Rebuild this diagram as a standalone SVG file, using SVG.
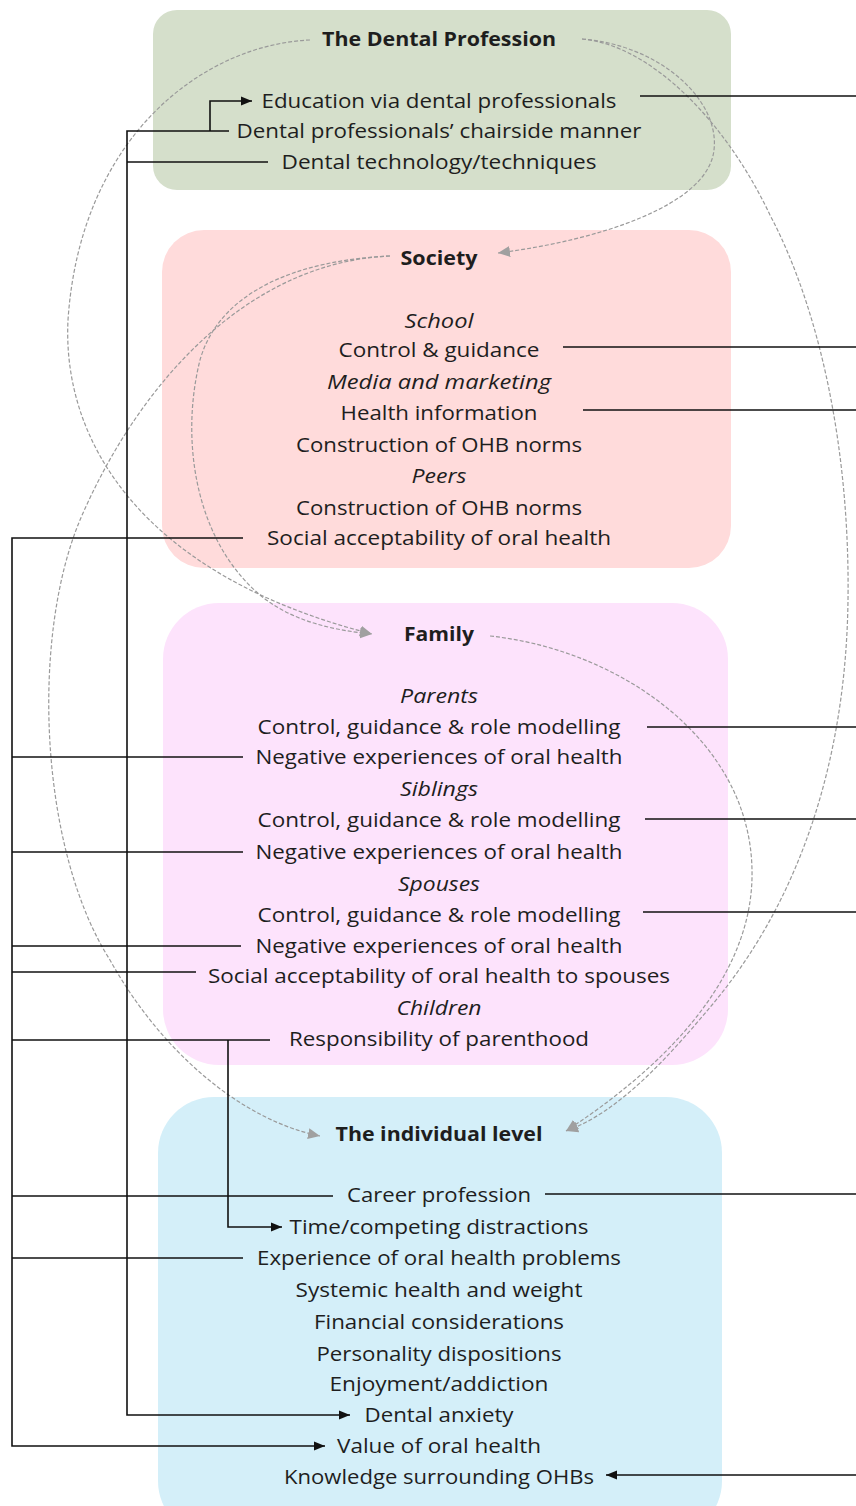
<svg xmlns="http://www.w3.org/2000/svg" width="856" height="1506" viewBox="0 0 856 1506">
  <style>
    text { font-family: "Open Sans", "Noto Sans", sans-serif; font-size: 20px; fill: #1e1e1e; text-anchor: middle; }
    .h { font-weight: bold; }
    .i { font-style: italic; }
    .box { stroke: none; }
    .wire { fill: none; stroke: #111; stroke-width: 1.6; }
    .flow { fill: none; stroke: #9a9a9a; stroke-width: 1.2; stroke-dasharray: 4 2; }
  </style>
  <defs>
    <marker id="arrow" markerUnits="userSpaceOnUse" markerWidth="12" markerHeight="11" refX="11" refY="5.5" orient="auto">
      <path d="M0,1 L11,5.5 L0,10 z" fill="#111"/>
    </marker>
    <marker id="arrowGrey" markerUnits="userSpaceOnUse" markerWidth="13" markerHeight="12" refX="12" refY="6" orient="auto">
      <path d="M0,0.5 L12,6 L0,11.5 z" fill="#a0a0a0"/>
    </marker>
  </defs>

  <!-- Level panels -->
  <g id="dental-profession">
    <rect class="box" x="153" y="10" width="578" height="180" rx="24" fill="#d5dfcb"/>
    <text class="h" x="439" y="46" textLength="234" lengthAdjust="spacingAndGlyphs">The Dental Profession</text>
    <text x="439" y="108" textLength="355" lengthAdjust="spacingAndGlyphs">Education via dental professionals</text>
    <text x="439" y="138" textLength="405" lengthAdjust="spacingAndGlyphs">Dental professionals’ chairside manner</text>
    <text x="439" y="169" textLength="315" lengthAdjust="spacingAndGlyphs">Dental technology/techniques</text>
  </g>

  <g id="society">
    <rect class="box" x="162" y="230" width="569" height="338" rx="42" fill="#ffdbdb"/>
    <text class="h" x="439" y="265" textLength="77" lengthAdjust="spacingAndGlyphs">Society</text>
    <text class="i" x="439" y="328" textLength="69" lengthAdjust="spacingAndGlyphs">School</text>
    <text x="439" y="357" textLength="201" lengthAdjust="spacingAndGlyphs">Control &amp; guidance</text>
    <text class="i" x="439" y="389" textLength="224" lengthAdjust="spacingAndGlyphs">Media and marketing</text>
    <text x="439" y="420" textLength="197" lengthAdjust="spacingAndGlyphs">Health information</text>
    <text x="439" y="452" textLength="286" lengthAdjust="spacingAndGlyphs">Construction of OHB norms</text>
    <text class="i" x="439" y="483" textLength="55" lengthAdjust="spacingAndGlyphs">Peers</text>
    <text x="439" y="515" textLength="286" lengthAdjust="spacingAndGlyphs">Construction of OHB norms</text>
    <text x="439" y="545" textLength="344" lengthAdjust="spacingAndGlyphs">Social acceptability of oral health</text>
  </g>

  <g id="family">
    <rect class="box" x="163" y="603" width="565" height="462" rx="56" fill="#fde3fc"/>
    <text class="h" x="439" y="641" textLength="70" lengthAdjust="spacingAndGlyphs">Family</text>
    <text class="i" x="439" y="703" textLength="78" lengthAdjust="spacingAndGlyphs">Parents</text>
    <text x="439" y="734" textLength="363" lengthAdjust="spacingAndGlyphs">Control, guidance &amp; role modelling</text>
    <text x="439" y="764" textLength="367" lengthAdjust="spacingAndGlyphs">Negative experiences of oral health</text>
    <text class="i" x="439" y="796" textLength="78" lengthAdjust="spacingAndGlyphs">Siblings</text>
    <text x="439" y="827" textLength="363" lengthAdjust="spacingAndGlyphs">Control, guidance &amp; role modelling</text>
    <text x="439" y="859" textLength="367" lengthAdjust="spacingAndGlyphs">Negative experiences of oral health</text>
    <text class="i" x="439" y="891" textLength="82" lengthAdjust="spacingAndGlyphs">Spouses</text>
    <text x="439" y="922" textLength="363" lengthAdjust="spacingAndGlyphs">Control, guidance &amp; role modelling</text>
    <text x="439" y="953" textLength="367" lengthAdjust="spacingAndGlyphs">Negative experiences of oral health</text>
    <text x="439" y="983" textLength="462" lengthAdjust="spacingAndGlyphs">Social acceptability of oral health to spouses</text>
    <text class="i" x="439" y="1015" textLength="85" lengthAdjust="spacingAndGlyphs">Children</text>
    <text x="439" y="1046" textLength="300" lengthAdjust="spacingAndGlyphs">Responsibility of parenthood</text>
  </g>

  <g id="individual">
    <rect class="box" x="158" y="1097" width="564" height="440" rx="56" fill="#d4eff9"/>
    <text class="h" x="439" y="1141" textLength="207" lengthAdjust="spacingAndGlyphs">The individual level</text>
    <text x="439" y="1202" textLength="184" lengthAdjust="spacingAndGlyphs">Career profession</text>
    <text x="439" y="1234" textLength="299" lengthAdjust="spacingAndGlyphs">Time/competing distractions</text>
    <text x="439" y="1265" textLength="364" lengthAdjust="spacingAndGlyphs">Experience of oral health problems</text>
    <text x="439" y="1297" textLength="287" lengthAdjust="spacingAndGlyphs">Systemic health and weight</text>
    <text x="439" y="1329" textLength="250" lengthAdjust="spacingAndGlyphs">Financial considerations</text>
    <text x="439" y="1361" textLength="245" lengthAdjust="spacingAndGlyphs">Personality dispositions</text>
    <text x="439" y="1391" textLength="219" lengthAdjust="spacingAndGlyphs">Enjoyment/addiction</text>
    <text x="439" y="1422" textLength="149" lengthAdjust="spacingAndGlyphs">Dental anxiety</text>
    <text x="439" y="1453" textLength="204" lengthAdjust="spacingAndGlyphs">Value of oral health</text>
    <text x="439" y="1484" textLength="310" lengthAdjust="spacingAndGlyphs">Knowledge surrounding OHBs</text>
  </g>

  <!-- Influence curves between levels -->
  <g id="level-flows">
    <path class="flow" d="M582 39 C660 45 720 100 714 150 C708 205 600 240 498 253" marker-end="url(#arrowGrey)"/>
    <path class="flow" d="M582 39 C650 45 725 120 770 215 C820 310 850 450 848 600 C846 760 800 900 712 1005 C670 1055 620 1112 566 1131" marker-end="url(#arrowGrey)"/>
    <path class="flow" d="M310 40 C200 45 80 140 68 320 C62 440 140 575 372 634" marker-end="url(#arrowGrey)"/>
    <path class="flow" d="M390 256 C300 260 220 290 200 360 C180 440 195 540 260 595 C290 620 330 630 372 634" marker-end="url(#arrowGrey)"/>
    <path class="flow" d="M390 256 C250 262 140 380 80 520 C30 640 40 850 110 960 C160 1050 240 1120 320 1136" marker-end="url(#arrowGrey)"/>
    <path class="flow" d="M490 636 C620 650 750 740 752 870 C754 960 690 1050 566 1131" marker-end="url(#arrowGrey)"/>
  </g>

  <!-- Factor links -->
  <g id="connectors">
    <!-- outgoing links to the right -->
    <path class="wire" d="M640 96 H856"/>
    <path class="wire" d="M563 347 H856"/>
    <path class="wire" d="M583 410 H856"/>
    <path class="wire" d="M647 727 H856"/>
    <path class="wire" d="M645 819 H856"/>
    <path class="wire" d="M643 912 H856"/>
    <path class="wire" d="M545 1194 H856"/>
    <path class="wire" d="M856 1475 H606" marker-end="url(#arrow)"/>

    <!-- dental profession bus -->
    <path class="wire" d="M229 131 H127 V1415 H350" marker-end="url(#arrow)"/>
    <path class="wire" d="M210 131 V101 H252" marker-end="url(#arrow)"/>
    <path class="wire" d="M268 162 H127"/>

    <!-- experience bus -->
    <path class="wire" d="M243 538 H12 V1446 H325" marker-end="url(#arrow)"/>
    <path class="wire" d="M243 757 H12"/>
    <path class="wire" d="M243 852 H12"/>
    <path class="wire" d="M241 946 H12"/>
    <path class="wire" d="M196 972 H12"/>
    <path class="wire" d="M270 1040 H12"/>
    <path class="wire" d="M333 1196 H12"/>
    <path class="wire" d="M243 1258 H12"/>

    <!-- parenthood to time -->
    <path class="wire" d="M228 1040 V1227 H282" marker-end="url(#arrow)"/>
  </g>
</svg>
